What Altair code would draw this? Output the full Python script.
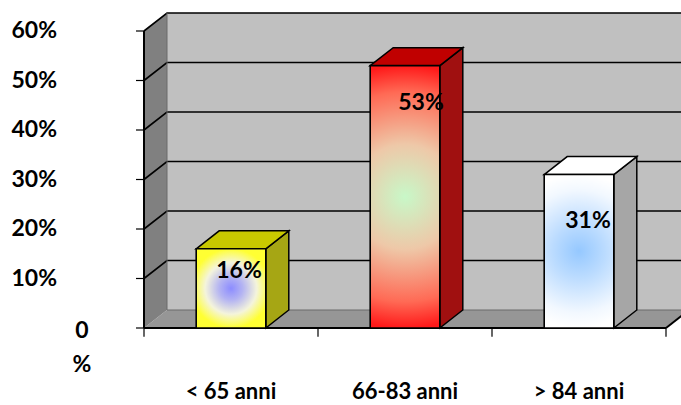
import altair as alt
import pandas as pd

# ---- data -------------------------------------------------------------
categories = ["< 65 anni", "66-83 anni", "> 84 anni"]
shares = [16, 53, 31]                      # percent
y_ticks = [0, 10, 20, 30, 40, 50, 60]

# ---- layout (pixels) ----------------------------------------------------
W, H = 681, 405
ORIGIN_X, ORIGIN_Y = 144, 328              # front corner of the floor
X_UNIT = 174                               # px per category slot
Y_UNIT = 4.95                              # px per percentage point
DEPTH_PX = (23, 18)                        # 3-D depth offset (right, up)
BAR_HALF = 0.2                             # half bar width in slots
TICK_PX = 8
FONT = "Lato"

# bar label nudges (dx, dy) in px from the front-top centre of each bar
label_nudge = [(8, 22), (16, 37), (9, 46)]

DX = DEPTH_PX[0] / X_UNIT
DY = DEPTH_PX[1] / Y_UNIT
YMAX = y_ticks[-1]
N = len(categories)

XS = alt.Scale(domain=[-ORIGIN_X / X_UNIT, (W - ORIGIN_X) / X_UNIT], nice=False, zero=False)
YS = alt.Scale(domain=[(ORIGIN_Y - H) / Y_UNIT, ORIGIN_Y / Y_UNIT], nice=False, zero=False)


def ex(f="x"):
    return alt.X(f"{f}:Q", scale=XS, axis=None)


def ey(f="y"):
    return alt.Y(f"{f}:Q", scale=YS, axis=None)


# ---- walls ------------------------------------------------------------
back_wall = alt.Chart(pd.DataFrame({"x": [DX], "x2": [N + 1.0], "y": [DY], "y2": [YMAX + DY]})).mark_rect(
    fill="#c0c0c0", clip=True
).encode(x=ex(), x2="x2:Q", y=ey(), y2="y2:Q")

floor = alt.Chart(pd.DataFrame({
    "x": [0, DX, N, N + DX], "y": [0, DY, DY, DY], "y2": [0, 0, 0, DY]
})).mark_area(fill="#969696", clip=True).encode(x=ex(), y=ey(), y2="y2:Q")

left_wall = alt.Chart(pd.DataFrame({
    "x": [0, DX], "y": [YMAX, YMAX + DY], "y2": [0, DY]
})).mark_area(fill="#808080").encode(x=ex(), y=ey(), y2="y2:Q")

grid_rows = []
for v in y_ticks[1:]:
    grid_rows += [
        {"lvl": v, "x": 0, "y": v},
        {"lvl": v, "x": DX, "y": v + DY},
        {"lvl": v, "x": N + 1.0, "y": v + DY},
    ]
grid = alt.Chart(pd.DataFrame(grid_rows)).mark_line(color="black", strokeWidth=1.6, clip=True).encode(
    x=ex(), y=ey(), detail="lvl:N"
)

wall_edges = alt.Chart(pd.DataFrame({
    "x": [DX, DX], "x2": [DX, N + 1.0], "y": [DY, DY], "y2": [YMAX + DY, DY]
})).mark_rule(color="#6a6a6a", strokeWidth=1, clip=True).encode(x=ex(), x2="x2:Q", y=ey(), y2="y2:Q")

front_edges = alt.Chart(pd.DataFrame({
    "x": [0, 0, N], "x2": [0, N, N + DX], "y": [0, 0, 0], "y2": [YMAX, 0, DY]
})).mark_rule(color="black", strokeWidth=2, clip=True).encode(x=ex(), x2="x2:Q", y=ey(), y2="y2:Q")

y_tick_marks = alt.Chart(pd.DataFrame({"y": y_ticks})).transform_calculate(
    x=f"{-TICK_PX / X_UNIT}", x2="0"
).mark_rule(color="black", strokeWidth=1.2).encode(x=ex(), x2="x2:Q", y=ey())

x_tick_marks = alt.Chart(pd.DataFrame({"x": list(range(N + 1))})).transform_calculate(
    y="0", y2=f"{-1.1 * TICK_PX / Y_UNIT}"
).mark_rule(color="black", strokeWidth=1.2).encode(x=ex(), y=ey(), y2="y2:Q")

# ---- bars -------------------------------------------------------------
face_top = ["#c8c800", "#c00000", "#ffffff"]
face_side = ["#a6a614", "#a01010", "#a6a6a6"]
gradients = [
    [("#8c8cff", 0.0), ("#b4b4f2", 0.3), ("#f4f4dc", 0.65), ("#ffff33", 1.0)],
    [("#c8f8c8", 0.0), ("#eec8a8", 0.4), ("#ff6a55", 0.8), ("#ff1a1a", 1.0)],
    [("#95c8ff", 0.0), ("#bcdcff", 0.35), ("#f2f8ff", 0.8), ("#ffffff", 1.0)],
]

side_rows, top_rows, front_rows = [], [], []
for i, (cat, v) in enumerate(zip(categories, shares)):
    x0, x1 = i + 0.5 - BAR_HALF, i + 0.5 + BAR_HALF
    side_rows += [
        {"bar": cat, "fill": face_side[i], "x": x1, "y": v, "y2": 0},
        {"bar": cat, "fill": face_side[i], "x": x1 + DX, "y": v + DY, "y2": DY},
    ]
    top_rows += [
        {"bar": cat, "fill": face_top[i], "x": x0, "y": v, "y2": v},
        {"bar": cat, "fill": face_top[i], "x": x0 + DX, "y": v + DY, "y2": v},
        {"bar": cat, "fill": face_top[i], "x": x1, "y": v + DY, "y2": v},
        {"bar": cat, "fill": face_top[i], "x": x1 + DX, "y": v + DY, "y2": v + DY},
    ]
    front_rows.append({"bar": cat, "x": x0, "x2": x1, "y": v, "y2": 0, "mid": i + 0.5,
                       "label": f"{v}%"})

sides = alt.Chart(pd.DataFrame(side_rows)).mark_area(stroke="black", strokeWidth=1.5).encode(
    x=ex(), y=ey(), y2="y2:Q", detail="bar:N", fill=alt.Fill("fill:N", scale=None)
)
tops = alt.Chart(pd.DataFrame(top_rows)).mark_area(stroke="black", strokeWidth=1.5).encode(
    x=ex(), y=ey(), y2="y2:Q", detail="bar:N", fill=alt.Fill("fill:N", scale=None)
)

front_df = pd.DataFrame(front_rows)
fronts, bar_labels = [], []
for i, cat in enumerate(categories):
    grad = {
        "gradient": "radial",
        "x1": 0.5, "y1": 0.5, "r1": 0,
        "x2": 0.5, "y2": 0.5, "r2": 0.5,
        "stops": [{"color": c, "offset": o} for c, o in gradients[i]],
    }
    base = alt.Chart(front_df).transform_filter(alt.datum.bar == cat)
    fronts.append(
        base.mark_rect(fill=grad, stroke="black", strokeWidth=1.6).encode(
            x=ex(), x2="x2:Q", y=ey(), y2="y2:Q"
        )
    )
    dxp, dyp = label_nudge[i]
    bar_labels.append(
        base.mark_text(font=FONT, fontWeight="bold", fontSize=23, color="black",
                       baseline="middle", align="center", dx=dxp, dy=dyp).encode(
            x=ex("mid"), y=ey(), text="label:N"
        )
    )

# ---- axis labels --------------------------------------------------------
y_lab_df = pd.DataFrame({"y": y_ticks[1:], "x": [0] * (len(y_ticks) - 1),
                         "t": [f"{v}%" for v in y_ticks[1:]]})
y_labels = alt.Chart(y_lab_df).mark_text(
    font=FONT, fontWeight="bold", fontSize=23, align="right", baseline="middle", dx=-87, dy=0
).encode(x=ex(), y=ey(), text="t:N")

# the zero label wraps onto two lines
zero_label = alt.Chart(pd.DataFrame({"x": [0], "y": [0], "t": ["0\n%"]})).mark_text(
    font=FONT, fontWeight="bold", fontSize=23, align="center", baseline="middle",
    lineBreak="\n", lineHeight=34, dx=-62, dy=3
).encode(x=ex(), y=ey(), text="t:N")

x_lab_df = pd.DataFrame({"x": [i + 0.5 for i in range(N)], "y": [0] * N, "t": categories})
x_labels = alt.Chart(x_lab_df).mark_text(
    font=FONT, fontWeight="bold", fontSize=22, align="center", baseline="alphabetic", dy=71
).encode(x=ex(), y=ey(), text="t:N")

chart = alt.layer(
    back_wall, floor, left_wall, grid, wall_edges, front_edges, y_tick_marks, x_tick_marks,
    sides, tops, *fronts, *bar_labels, y_labels, zero_label, x_labels
).properties(
    width=W, height=H, padding=0, autosize=alt.AutoSizeParams(type="none"), background="white"
).configure_view(stroke=None)

chart.save("out.html", embed_options={"renderer": "svg", "actions": False})
